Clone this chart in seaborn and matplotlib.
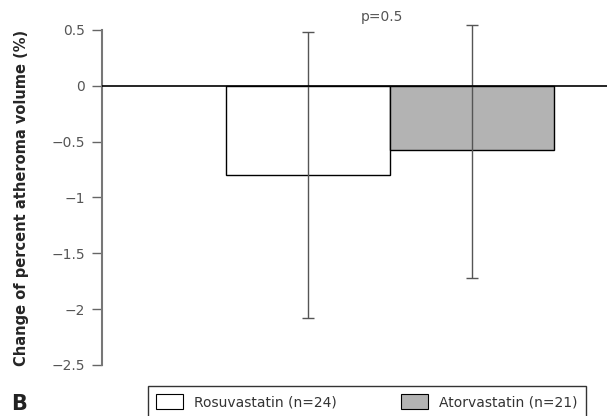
import numpy as np
import pandas as pd
import matplotlib
matplotlib.use("Agg")
import matplotlib.pyplot as plt
import seaborn as sns
from matplotlib.patches import Patch

groups = ["Rosuvastatin (n=24)", "Atorvastatin (n=21)"]
means = [-0.80, -0.575]
err_low = [1.28, 1.15]
err_high = [1.28, 1.12]
bar_colors = ["white", "#b3b3b3"]
yticks = [0.5, 0, -0.5, -1, -1.5, -2, -2.5]

df = pd.DataFrame({"group": groups, "change": means})

sns.set_style("white")
plt.rcParams["font.family"] = ["DejaVu Sans"]

fig = plt.figure(figsize=(6.07, 4.16), dpi=100)
ax = fig.add_axes([0.168, 0.1226, 0.832, 0.8054])

sns.barplot(data=df, x="group", y="change", hue="group", palette=bar_colors,
            width=1.0, edgecolor="black", linewidth=1, legend=False, ax=ax)
ax.errorbar(range(len(groups)), means, yerr=[err_low, err_high], fmt="none",
            ecolor="#555555", elinewidth=1, capsize=4, capthick=1, clip_on=False)
ax.axhline(0, color="black", lw=1.2, zorder=5)

ax.set_ylim(-2.5, 0.5)
ax.set_xlim(-1.256, 1.82)
ax.set_yticks(yticks)
ax.set_yticklabels([str(t).replace("-", "\u2212") for t in yticks], fontsize=10, color="#555555")
ax.tick_params(axis="y", left=True, direction="out", length=7, width=1, color="#666666", pad=5)
ax.set_xticks([])
ax.set_xlabel("")
ax.set_ylabel("Change of percent atheroma volume (%)", fontsize=10.5, fontweight="bold", labelpad=16)
for s in ["top", "right", "bottom"]:
    ax.spines[s].set_visible(False)
ax.spines["left"].set_color("#777777")
ax.spines["left"].set_linewidth(1.5)

ax.text(0.45, 0.55, "p=0.5", ha="center", va="bottom", fontsize=10, color="#555555")

handles = [Patch(facecolor=c, edgecolor="black", linewidth=0.8) for c in bar_colors]
leg = fig.legend(handles, groups, loc="upper left", bbox_to_anchor=(0.244, 0.0, 0.721, 0.072),
                 mode="expand", ncol=2,
                 frameon=True, fancybox=False, edgecolor="black", fontsize=10,
                 handlelength=1.9, handleheight=1.2, columnspacing=2.6,
                 borderpad=0.6, borderaxespad=0)
leg.get_frame().set_linewidth(1)
for t in leg.get_texts():
    t.set_color("#333333")

fig.text(0.018, 0.015, "B", fontsize=15, fontweight="bold", color="#222222")

fig.savefig("out.png", dpi=100)
